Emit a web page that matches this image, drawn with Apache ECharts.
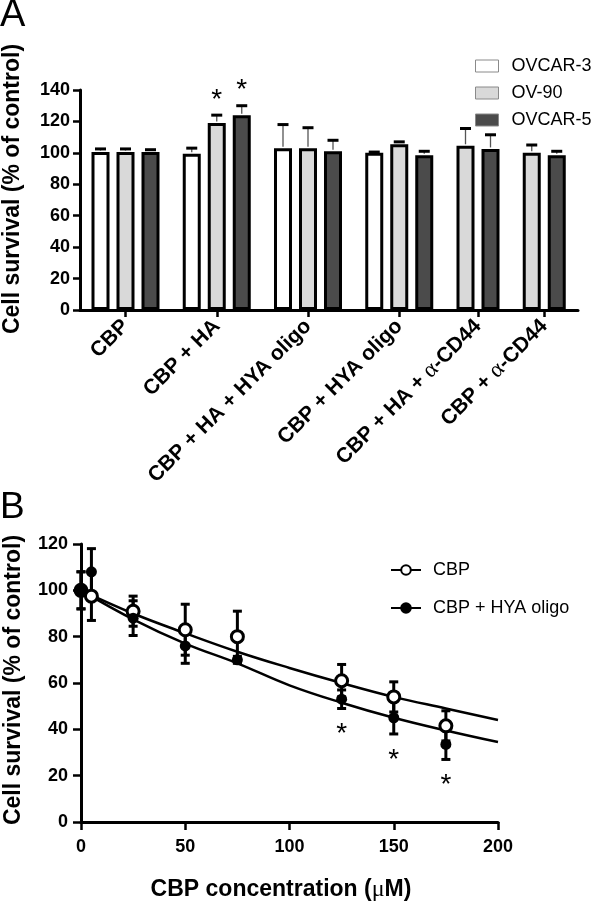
<!DOCTYPE html>
<html><head><meta charset="utf-8">
<script src="https://cdn.jsdelivr.net/npm/echarts@6/dist/echarts.min.js"></script>
<style>html,body{margin:0;padding:0;background:#fff}#c{width:600px;height:905px}</style>
</head><body><div id="c"></div>
<script>
// ---------- Panel A data ----------
const groups = ['CBP', 'CBP + HA', 'CBP + HA + HYA oligo', 'CBP + HYA oligo', 'CBP + HA + α-CD44', 'CBP + α-CD44'];
const cellLines = ['OVCAR-3', 'OV-90', 'OVCAR-5'];
const ovcar3 = [100.5, 99.5, 103, 100, null, null];
const ovcar3Err = [2, 3.5, 15, 0.5, null, null];
const ov90 = [100.5, 119, 103, 105.5, 104.5, 100];
const ov90Err = [2, 5, 13, 1.5, 11, 5];
const ovcar5 = [100.5, 124, 101, 98.5, 102.5, 98.5];
const ovcar5Err = [1.5, 6, 7, 2.5, 9, 2.5];
const sigA = [[1, 1], [1, 2]]; // [group index, cell line index]
const yTicksA = [0, 20, 40, 60, 80, 100, 120, 140];

// ---------- Panel B data ----------
const conc = [0, 5, 25, 50, 75, 125, 150, 175];
const cbp = [100, 97.5, 91, 83, 80, 61, 54, 41.5];
const cbpErr = [8, 10.5, 6.5, 11, 11, 7, 6.5, 6.5];
const hya = [100, 108, 88, 76, 70, 53, 45, 33.5];
const hyaErr = [8, 10, 7.5, 7.5, 1.5, 4, 7, 6.5];
const sigB = [false, false, false, false, false, true, true, true];
const fitX = [0, 25, 50, 75, 100, 125, 150, 175, 200];
const cbpFit = [100, 90, 81.5, 73.5, 66.5, 60, 54, 49, 44];
const hyaFit = [100, 87.5, 77, 68.5, 59, 51.5, 45, 39.5, 34.5];

// ---------- styling ----------
const FONT = 'Liberation Sans, Arial, Helvetica, sans-serif';
const SERIF = 'Liberation Serif, Times New Roman, serif';
const barColors = ['#ffffff', '#d9d9d9', '#4b4b4b'];

// bar slot layout (bars contiguous within a group, gap between groups)
const vals = [ovcar3, ov90, ovcar5];
const errs = [ovcar3Err, ov90Err, ovcar5Err];
const GAP = 0.65, START = 0.82;
const pos = [[], [], []];
const centers = [];
let cur = START, last = START;
groups.forEach((g, gi) => {
  const ps = [];
  vals.forEach((v, si) => {
    if (v[gi] != null) { pos[si][gi] = cur; ps.push(cur); last = cur; cur += 1; }
    else pos[si][gi] = null;
  });
  centers.push((ps[0] + ps[ps.length - 1]) / 2);
  cur += GAP;
});
const xMaxA = last + 0.85;

function labelFor(v) {
  let idx = 0, best = 1e9;
  centers.forEach((c, i) => { if (Math.abs(c - v) < best) { best = Math.abs(c - v); idx = i; } });
  const name = groups[idx];
  if (name.indexOf('α') >= 0) { const parts = name.split('α'); return '{b|' + parts[0] + '}{a|α}{b|' + parts[1] + '}'; }
  return '{b|' + name + '}';
}

const barSeries = cellLines.map((name, si) => ({
  name: name, type: 'bar', xAxisIndex: 0, yAxisIndex: 0, barWidth: 18, barGap: '-100%',
  itemStyle: { color: barColors[si], borderColor: '#000', borderWidth: 3 },
  data: vals[si].map((v, gi) => v == null ? null : [pos[si][gi], v]).filter(d => d), z: 2
}));

const errA = [];
vals.forEach((v, si) => v.forEach((val, gi) => {
  if (val == null) return;
  const s = sigA.some(p => p[0] === gi && p[1] === si) ? 1 : 0;
  errA.push([pos[si][gi], val, errs[si][gi], s]);
}));

const errB = [];
conc.forEach((c, i) => { errB.push([c, cbp[i], cbpErr[i], 0]); errB.push([c, hya[i], hyaErr[i], sigB[i] ? 1 : 0]); });

const option = {
  animation: false, backgroundColor: '#fff', textStyle: { fontFamily: FONT },
  graphic: [
    { type: 'text', left: 0, top: -3, style: { text: 'A', font: '38px ' + FONT, fill: '#000' } },
    { type: 'text', left: 0, top: 489, style: { text: 'B', font: '37px ' + FONT, fill: '#000' } }
  ],
  legend: [
    { data: cellLines, orient: 'vertical', left: 470, top: 52, icon: 'rect', itemWidth: 23, itemHeight: 12, itemGap: 9,
      itemStyle: { borderColor: '#8a8a8a', borderWidth: 1 },
      textStyle: { fontFamily: FONT, fontSize: 18, color: '#000', padding: [0, 0, 0, 8] }, selectedMode: false },
    { data: ['CBP', 'CBP + HYA oligo'], orient: 'vertical', left: 385, top: 556, itemWidth: 30, itemHeight: 12, itemGap: 20,
      textStyle: { fontFamily: FONT, fontSize: 18, color: '#000', padding: [0, 0, 0, 7] }, selectedMode: false }
  ],
  grid: [
    { left: 80, top: 90, width: 498, height: 220, outerBoundsMode: 'none', containLabel: false },
    { left: 81, top: 544, width: 417, height: 278, outerBoundsMode: 'none', containLabel: false }
  ],
  xAxis: [
    { type: 'value', gridIndex: 0, min: 0, max: xMaxA, splitLine: { show: false }, z: 10,
      axisLine: { show: true, lineStyle: { color: '#000', width: 3 } },
      axisTick: { show: true, customValues: centers, length: 7, lineStyle: { width: 2.5, color: '#000' } },
      axisLabel: { customValues: centers, rotate: 45, margin: 13, formatter: labelFor,
        rich: { b: { fontFamily: FONT, fontWeight: 'bold', fontSize: 21, color: '#000' }, a: { fontFamily: SERIF, fontSize: 23, color: '#000' } } } },
    { type: 'value', gridIndex: 1, min: 0, max: 200, interval: 50, splitLine: { show: false }, z: 10,
      axisLine: { show: true, lineStyle: { color: '#000', width: 3 } },
      axisTick: { show: true, length: 8, lineStyle: { width: 2.5, color: '#000' } },
      axisLabel: { margin: 16, fontFamily: FONT, fontWeight: 'bold', fontSize: 18, color: '#000' },
      name: '{b|CBP concentration (}{m|μ}{b|M)}', nameLocation: 'middle', nameGap: 56,
      nameTextStyle: { padding: [0, 17, 0, 0], rich: { b: { fontFamily: FONT, fontWeight: 'bold', fontSize: 23, color: '#000' }, m: { fontFamily: SERIF, fontSize: 24, color: '#000' } } } }
  ],
  yAxis: [
    { type: 'value', gridIndex: 0, min: yTicksA[0], max: yTicksA[yTicksA.length - 1], interval: 20, splitLine: { show: false }, z: 10,
      axisLine: { show: true, onZero: false, lineStyle: { color: '#000', width: 3 } },
      axisTick: { show: true, length: 7, lineStyle: { width: 2.5, color: '#000' } },
      axisLabel: { margin: 10, fontFamily: FONT, fontWeight: 'bold', fontSize: 18, color: '#000' },
      name: 'Cell survival (% of control)', nameLocation: 'middle', nameGap: 56,
      nameTextStyle: { fontFamily: FONT, fontWeight: 'bold', fontSize: 23, color: '#000', padding: [0, 0, 0, 22] } },
    { type: 'value', gridIndex: 1, min: 0, max: 120, interval: 20, splitLine: { show: false }, z: 10,
      axisLine: { show: true, onZero: false, lineStyle: { color: '#000', width: 3 } },
      axisTick: { show: true, length: 8, lineStyle: { width: 2.5, color: '#000' } },
      axisLabel: { margin: 13, fontFamily: FONT, fontWeight: 'bold', fontSize: 18, color: '#000' },
      name: 'Cell survival (% of control)', nameLocation: 'middle', nameGap: 56,
      nameTextStyle: { fontFamily: FONT, fontWeight: 'bold', fontSize: 23, color: '#000', padding: [0, 0, 0, 6] } }
  ],
  series: [
    ...barSeries,
    { type: 'custom', xAxisIndex: 0, yAxisIndex: 0, z: 3, data: errA, encode: { x: 0, y: 1 },
      renderItem: function (params, api) {
        const x = api.value(0), y = api.value(1), e = api.value(2), s = api.value(3);
        const b = api.coord([x, y]), t = api.coord([x, y + e]);
        const ch = [
          { type: 'line', shape: { x1: b[0], y1: b[1] - 1.5, x2: t[0], y2: t[1] }, style: { stroke: '#555', lineWidth: 1.3 } },
          { type: 'line', shape: { x1: t[0] - 5.5, y1: t[1], x2: t[0] + 5.5, y2: t[1] }, style: { stroke: '#000', lineWidth: 3 } }
        ];
        if (s) ch.push({ type: 'text', x: t[0], y: t[1] - 29, style: { text: '*', font: '28px ' + FONT, fill: '#000', align: 'center', verticalAlign: 'top' } });
        return { type: 'group', children: ch };
      } },
    { name: 'CBP', type: 'line', xAxisIndex: 1, yAxisIndex: 1, smooth: 0.4, showSymbol: false, symbol: 'circle', symbolSize: 12,
      itemStyle: { color: '#fff', borderColor: '#000', borderWidth: 3 }, lineStyle: { color: '#000', width: 2.5 },
      data: fitX.map((x, i) => [x, cbpFit[i]]), z: 2 },
    { name: 'CBP + HYA oligo', type: 'line', xAxisIndex: 1, yAxisIndex: 1, smooth: 0.4, showSymbol: false, symbol: 'circle', symbolSize: 11,
      itemStyle: { color: '#000', borderColor: '#000', borderWidth: 1 }, lineStyle: { color: '#000', width: 2.5 },
      data: fitX.map((x, i) => [x, hyaFit[i]]), z: 2 },
    { type: 'custom', xAxisIndex: 1, yAxisIndex: 1, z: 3, data: errB, encode: { x: 0, y: 1 },
      renderItem: function (params, api) {
        const x = api.value(0), y = api.value(1), e = api.value(2), s = api.value(3);
        const top = api.coord([x, y + e]), bot = api.coord([x, y - e]);
        const ch = [
          { type: 'line', shape: { x1: top[0], y1: top[1], x2: bot[0], y2: bot[1] }, style: { stroke: '#000', lineWidth: 3 } },
          { type: 'line', shape: { x1: top[0] - 4.5, y1: top[1], x2: top[0] + 4.5, y2: top[1] }, style: { stroke: '#000', lineWidth: 3 } },
          { type: 'line', shape: { x1: bot[0] - 4.5, y1: bot[1], x2: bot[0] + 4.5, y2: bot[1] }, style: { stroke: '#000', lineWidth: 3 } }
        ];
        if (s) ch.push({ type: 'text', x: bot[0], y: bot[1] + 12, style: { text: '*', font: '28px ' + FONT, fill: '#000', align: 'center', verticalAlign: 'top' } });
        return { type: 'group', children: ch };
      } },
    { type: 'scatter', xAxisIndex: 1, yAxisIndex: 1, z: 4, symbol: 'circle', symbolSize: 12,
      itemStyle: { color: '#fff', borderColor: '#000', borderWidth: 3, opacity: 1 }, data: conc.map((c, i) => [c, cbp[i]]) },
    { type: 'scatter', xAxisIndex: 1, yAxisIndex: 1, z: 5, symbol: 'circle', symbolSize: 11,
      itemStyle: { color: '#000', opacity: 1 }, data: conc.map((c, i) => [c, hya[i]]) }
  ]
};
const chart = echarts.init(document.getElementById('c'), null, { renderer: 'canvas' });
chart.setOption(option);
</script>
</body></html>
